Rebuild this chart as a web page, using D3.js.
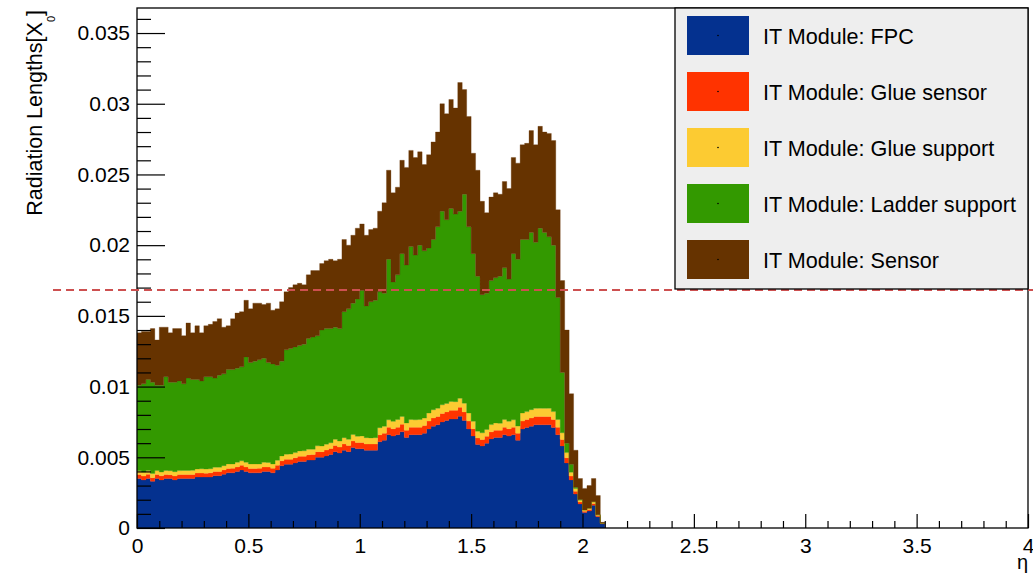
<!DOCTYPE html>
<html><head><meta charset="utf-8">
<script src="https://cdn.jsdelivr.net/npm/d3@7"></script>
<style>
body{margin:0;background:#fff}
svg text{font-family:"Liberation Sans",Arial,Helvetica,sans-serif;fill:#000}
</style>
</head><body>
<svg id="chart" width="1033" height="573"></svg>
<script>
// ---------- data ----------
const binWidth = 0.02; // eta bin width
const fpc = [.0035,.0034,.0035,.0033,.0035,.0034,.0035,.0035,.0034,.0035,
.0035,.0035,.0035,.0036,.0036,.0036,.0036,.0037,.0037,.0038,
.0039,.0039,.0040,.0041,.0040,.0039,.0039,.0039,.0040,.0040,
.0039,.0041,.0044,.0045,.0045,.0046,.0047,.0047,.0048,.0048,
.0050,.0050,.0051,.0052,.0054,.0053,.0055,.0054,.0057,.0056,
.0056,.0055,.0055,.0055,.0061,.0062,.0066,.0065,.0066,.0068,
.0064,.0066,.0066,.0066,.0067,.0070,.0072,.0073,.0075,.0076,
.0077,.0077,.0079,.0076,.0070,.0065,.0059,.0058,.0060,.0063,
.0064,.0064,.0066,.0065,.0066,.0062,.0070,.0071,.0072,.0073,
.0073,.0073,.0073,.0071,.0066,.0058,.0046,.0034,.0024,.0017,
.0011,.0012,.0016,.0008,.0003];
const glueSensor = [.00028,.00027,.00030,.00026,.00028,.00029,.00028,.00027,.00028,.00029,
.00028,.00029,.00028,.00029,.00029,.00028,.00030,.00029,.00030,.00031,
.00031,.00032,.00032,.00033,.00032,.00031,.00031,.00032,.00032,.00031,
.00032,.00034,.00035,.00036,.00036,.00037,.00037,.00038,.00038,.00039,
.00040,.00040,.00041,.00042,.00043,.00042,.00044,.00043,.00045,.00045,
.00045,.00044,.00044,.00044,.00049,.00050,.00052,.00052,.00053,.00054,
.00051,.00053,.00053,.00053,.00054,.00056,.00058,.00058,.00060,.00061,
.00062,.00062,.00063,.00061,.00056,.00052,.00047,.00046,.00048,.00050,
.00051,.00051,.00053,.00052,.00053,.00050,.00056,.00057,.00058,.00058,
.00058,.00058,.00058,.00057,.00053,.00046,.00037,.00027,.00019,.00014,
.00009,.00010,.00013,.00006,.00002];
const glueSupport = [.00027,.00029,.00026,.00030,.00028,.00027,.00029,.00028,.00030,.00027,
.00029,.00028,.00030,.00028,.00030,.00029,.00029,.00031,.00030,.00030,
.00032,.00031,.00033,.00032,.00033,.00032,.00032,.00031,.00033,.00032,
.00031,.00035,.00035,.00036,.00037,.00036,.00038,.00038,.00039,.00038,
.00041,.00040,.00042,.00041,.00044,.00043,.00045,.00044,.00046,.00044,
.00046,.00045,.00043,.00045,.00050,.00049,.00053,.00052,.00054,.00055,
.00052,.00054,.00052,.00054,.00053,.00057,.00058,.00059,.00061,.00060,
.00063,.00061,.00064,.00062,.00057,.00053,.00048,.00047,.00049,.00051,
.00052,.00050,.00054,.00053,.00052,.00051,.00057,.00056,.00059,.00058,
.00059,.00058,.00059,.00056,.00054,.00047,.00036,.00028,.00020,.00013,
.00009,.00010,.00013,.00007,.00002];
const ladderSupport = [.00605,.00624,.00644,.00644,.00604,.00614,.00663,.00625,.00632,.00634,
.00613,.00653,.00642,.00633,.00621,.00653,.00651,.00630,.00650,.00649,
.00667,.00667,.00665,.00665,.00745,.00717,.00727,.00737,.00735,.00707,
.00707,.00671,.00670,.00738,.00747,.00747,.00745,.00754,.00783,.00793,
.00779,.00820,.00817,.00807,.00793,.00795,.00891,.00923,.00929,.00971,
.01029,.00931,.00963,.00971,.00961,.00941,.01135,.00986,.01023,.01151,
.01117,.01223,.01165,.01233,.01183,.01167,.01204,.01283,.01369,.01299,
.01365,.01327,.01323,.01477,.01317,.01185,.01095,.00977,.00963,.01019,
.01027,.01039,.01073,.01005,.01175,.01179,.01227,.01217,.01253,.01174,
.01273,.01244,.01213,.01177,.00863,.00427,.00067,.00055,.00010,.00005,
0,0,0,0,0];
const sensor = [.0037,.0037,.0034,.0038,.0032,.0041,.0035,.0035,.0038,.0037,
.0034,.0039,.0033,.0038,.0034,.0036,.0037,.0040,.0040,.0033,
.0031,.0036,.0039,.0039,.0040,.0038,.0041,.0040,.0038,.0042,
.0038,.0040,.0042,.0041,.0043,.0044,.0044,.0042,.0045,.0047,
.0046,.0047,.0048,.0049,.0047,.0049,.0051,.0045,.0048,.0050,
.0047,.0050,.0051,.0051,.0057,.0064,.0063,.0063,.0062,.0066,
.0069,.0068,.0069,.0066,.0061,.0066,.0069,.0067,.0076,.0075,
.0077,.0075,.0091,.0074,.0078,.0071,.0075,.0066,.0057,.0059,
.0060,.0058,.0061,.0064,.0068,.0068,.0067,.0068,.0072,.0069,
.0072,.0071,.0073,.0074,.0062,.0065,.0080,.0050,.00261,.00148,
.00152,.00160,.00164,.00137,.00006];

const seriesNames = ["IT Module: FPC","IT Module: Glue sensor","IT Module: Glue support","IT Module: Ladder support","IT Module: Sensor"];
const seriesValues = [fpc, glueSensor, glueSupport, ladderSupport, sensor];
const seriesColors = ["#04318f","#ff3300","#fccb32","#339900","#663300"];

const xTicks = [0,0.5,1,1.5,2,2.5,3,3.5,4];
const xTickLabels = ["0","0.5","1","1.5","2","2.5","3","3.5","4"];
const yTicks = [0,0.005,0.01,0.015,0.02,0.025,0.03,0.035];
const yTickLabels = ["0","0.005","0.01","0.015","0.02","0.025","0.03","0.035"];
const xDomain = [0,4];
const yDomain = [0,0.03677];
const refLineValue = 0.01683;
const refLineExtent = [-0.377, 4.1];

// ---------- layout ----------
const L = 137, R = 1028, T = 8, B = 528;
const svg = d3.select("#chart");
const x = d3.scaleLinear().domain(xDomain).range([L, R]);
const y = d3.scaleLinear().domain(yDomain).range([B, T]);

svg.append("defs").append("clipPath").attr("id","frameClip")
  .append("rect").attr("x",L).attr("y",T).attr("width",R-L).attr("height",B-T);

// stack
const nBins = fpc.length;
const keys = seriesNames.map((_,i)=>"s"+i);
const rows = d3.range(nBins).map(i=>{
  const r = {i};
  seriesValues.forEach((arr,k)=>{ r["s"+k] = arr[i]; });
  return r;
});
const stacked = d3.stack().keys(keys)(rows);

const area = d3.area().x(d=>x(d.x)).y0(d=>y(d.y0)).y1(d=>y(d.y1));
const gHist = svg.append("g").attr("clip-path","url(#frameClip)");
stacked.forEach((layer,k)=>{
  const pts = [];
  layer.forEach((s,i)=>{
    pts.push({x:i*binWidth, y0:s[0], y1:s[1]});
    pts.push({x:(i+1)*binWidth, y0:s[0], y1:s[1]});
  });
  gHist.append("path").attr("d",area(pts))
    .attr("fill",seriesColors[k]).attr("stroke",seriesColors[k]).attr("stroke-width",0.3);
});

// axes
const fs = 21;
const xMinor = d3.range(0, 41).map(i=>i/10).filter(v=>Math.abs(v*2-Math.round(v*2))>1e-9);
const yMinor = d3.range(0, 37).map(i=>i/1000).filter(v=>Math.abs(v*200-Math.round(v*200))>1e-9);

const gx = svg.append("g").attr("transform",`translate(0,${B})`)
  .call(d3.axisBottom(x).tickValues(xTicks).tickSize(-14).tickPadding(10)
        .tickFormat((d,i)=>xTickLabels[i]));
const gxm = svg.append("g").attr("transform",`translate(0,${B})`)
  .call(d3.axisBottom(x).tickValues(xMinor).tickSize(-7).tickFormat(""));
const gy = svg.append("g").attr("transform",`translate(${L},0)`)
  .call(d3.axisLeft(y).tickValues(yTicks).tickSize(-28).tickPadding(7)
        .tickFormat((d,i)=>yTickLabels[i]));
const gym = svg.append("g").attr("transform",`translate(${L},0)`)
  .call(d3.axisLeft(y).tickValues(yMinor).tickSize(-14).tickFormat(""));
[gx,gxm,gy,gym].forEach(g=>{
  g.select(".domain").remove();
  g.selectAll("line").attr("stroke","#000").attr("stroke-width",1.2);
  g.selectAll("text").attr("font-size",fs).attr("fill","#000")
   .style("font-family","'Liberation Sans',Arial,sans-serif");
});

// frame
svg.append("rect").attr("x",L).attr("y",T).attr("width",R-L).attr("height",B-T)
  .attr("fill","none").attr("stroke","#000").attr("stroke-width",1.3);

// reference dashed line
svg.append("line")
  .attr("x1",x(refLineExtent[0])).attr("x2",x(refLineExtent[1]))
  .attr("y1",y(refLineValue)).attr("y2",y(refLineValue))
  .attr("stroke","#cd5050").attr("stroke-width",2).attr("stroke-dasharray","8,5");

// axis titles
const yt = svg.append("text").attr("transform","translate(42,10) rotate(-90)")
  .attr("text-anchor","end").attr("font-size",21.5);
yt.append("tspan").text("Radiation Lengths[X");
yt.append("tspan").attr("font-size",11).attr("dy",13).text("0");
yt.append("tspan").attr("dy",-13).text("]");

svg.append("text").attr("x",R).attr("y",569).attr("text-anchor","end")
  .attr("font-size",20).text("η");

// legend
const lg = svg.append("g");
lg.append("rect").attr("x",675).attr("y",T).attr("width",R-675).attr("height",289-T)
  .attr("fill","#eeeeee").attr("stroke","#000").attr("stroke-width",1.3);
seriesNames.forEach((name,k)=>{
  const cy = 35.5 + k*56;
  lg.append("rect").attr("x",687).attr("y",cy-19.5).attr("width",62).attr("height",39)
    .attr("fill",seriesColors[k]);
  lg.append("circle").attr("cx",718).attr("cy",cy).attr("r",0.8).attr("fill","#000");
  lg.append("text").attr("x",763).attr("y",cy+8.5).attr("font-size",21.6).text(name);
});
</script>
</body></html>
